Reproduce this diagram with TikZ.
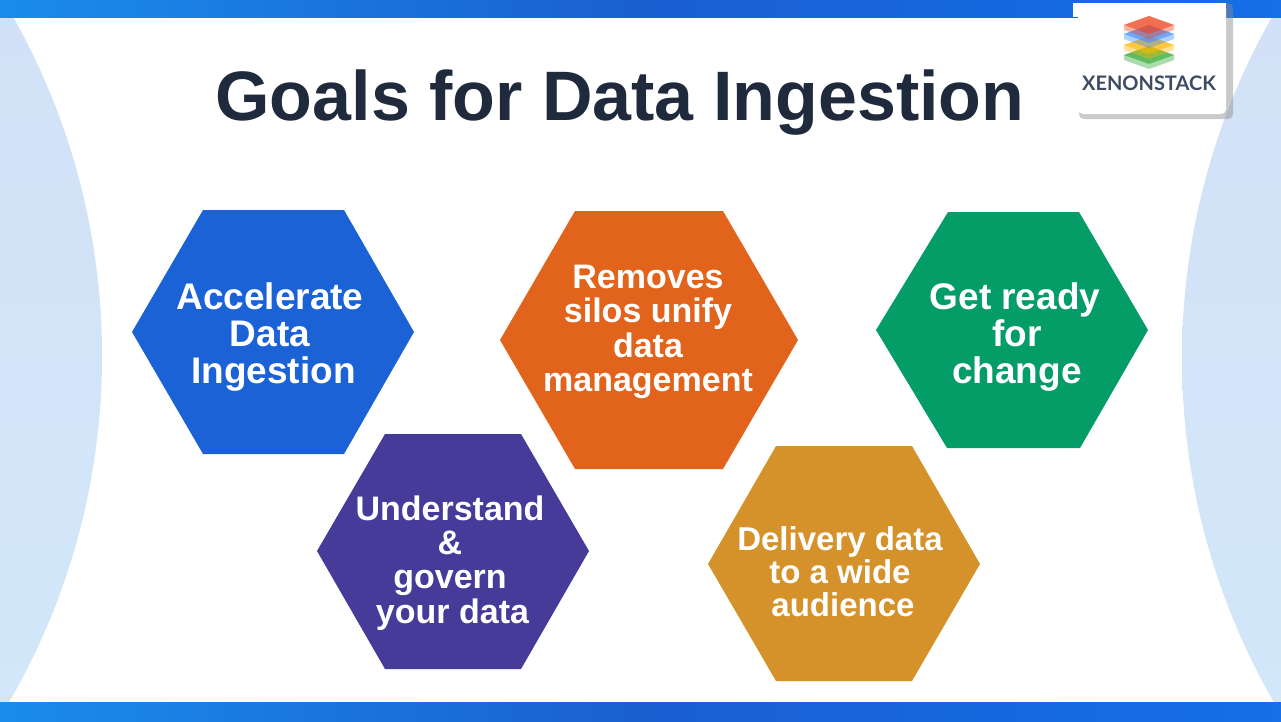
\documentclass[tikz,border=0pt]{standalone}
\usepackage{fontspec}
\setmainfont{Liberation Sans}
\usetikzlibrary{calc}
\definecolor{sideTop}{HTML}{D2E1F7}
\definecolor{sideBot}{HTML}{D2E7FA}
\definecolor{barA}{HTML}{1A8CEB}
\definecolor{barB}{HTML}{1A5FD2}
\definecolor{barC}{HTML}{146FE8}
\definecolor{ink}{HTML}{1F2A3C}
\definecolor{hexBlue}{HTML}{1A62D6}
\definecolor{hexOrange}{HTML}{E2631B}
\definecolor{hexGreen}{HTML}{049C67}
\definecolor{hexPurple}{HTML}{473B99}
\definecolor{hexGold}{HTML}{D5922B}
\definecolor{logoInk}{HTML}{3E4C63}
\definecolor{shadowGrey}{HTML}{8A8A8A}
\tikzset{
  hexlabel/.style={text=white,align=center,font=\fontsize{37}{37}\selectfont\bfseries,inner sep=0pt},
  hexlabelsmall/.style={hexlabel,font=\fontsize{34}{34.3}\selectfont\bfseries},
  barfill/.style={left color=barA,right color=barC,middle color=barB},
}
\newcommand{\nudge}[1]{\hspace*{#1}}
\begin{document}
\begin{tikzpicture}[x=1pt,y=-1pt]
\useasboundingbox (0,0) rectangle (1281,721);
\fill[white] (0,0) rectangle (1281,721);
% side arcs
\begin{scope}
\clip (-588,356) circle[radius=690pt];
\shade[top color=sideTop,bottom color=sideBot] (0,0) rectangle (110,721);
\end{scope}
\begin{scope}
\clip (1872,358) circle[radius=690pt];
\shade[top color=sideTop,bottom color=sideBot] (1170,0) rectangle (1281,721);
\end{scope}
% bars
\shade[barfill] (0,0) rectangle (1281,17);
\shade[barfill] (0,702) rectangle (1281,721);
% logo card
\fill[shadowGrey,opacity=.45,rounded corners=5pt] (1079,3) rectangle (1233,119);
\fill[white] (1073,3) rectangle (1226,17);
\fill[white,rounded corners=5pt] (1078,3) -- (1226,3) -- (1226,114) -- (1078,114) -- cycle;
% logo layers
\foreach \c/\d in {2FA82F/30,FFB800/20,3D8BFF/9,F0421C/0}{
  \definecolor{layer}{HTML}{\c}
  \fill[layer,opacity=.4] (1149,{16+\d}) -- (1174,{25+\d}) -- (1174,{30+\d}) -- (1149,{39+\d}) -- (1124,{30+\d}) -- (1124,{25+\d}) -- cycle;
  \fill[layer,opacity=.6] (1149,{16+\d}) -- (1174,{25+\d}) -- (1149,{34+\d}) -- (1124,{25+\d}) -- cycle;
}
\node[text=logoInk,inner sep=0pt,font={\fontspec{Lato}\fontsize{20}{22}\selectfont\bfseries}] (logotext) at (1149,83) {XENONSTACK};
% title
\node[text=ink,inner sep=0pt,font=\fontsize{70}{80}\selectfont\bfseries] (title) at (620,103) {Goals for Data Ingestion};
% hexagons
\fill[hexBlue] (132,332) -- (203,210) -- (344,210) -- (414,332) -- (344,454) -- (203,454) -- cycle;
\fill[hexOrange] (500,340) -- (575,211) -- (723,211) -- (798,340) -- (723,469) -- (575,469) -- cycle;
\fill[hexGreen] (876,330) -- (948,212) -- (1079,212) -- (1148,330) -- (1080,448) -- (947,448) -- cycle;
\fill[hexPurple] (317,551) -- (385,434) -- (521,434) -- (589,551) -- (521,669) -- (385,669) -- cycle;
\fill[hexGold] (708,564) -- (776,446) -- (912,446) -- (980,564) -- (912,681) -- (776,681) -- cycle;
% labels
\node[hexlabel] (accel) at (270,337) {Accelerate\\Data\\\nudge{7pt}Ingestion};
\node[hexlabelsmall] (silos) at (648,332) {Removes\\silos unify\\data\\management};
\node[hexlabel] (ready) at (1015,337) {Get ready\\\nudge{4pt}for\\\nudge{4pt}change};
\node[hexlabelsmall] (gov) at (450,563) {Understand\\\&\\govern\\\nudge{5pt}your data};
\node[hexlabelsmall,font=\fontsize{33}{33}\selectfont\bfseries] (deliver) at (840,572) {Delivery data\\to a wide\\\nudge{6pt}audience};
\end{tikzpicture}
\end{document}
